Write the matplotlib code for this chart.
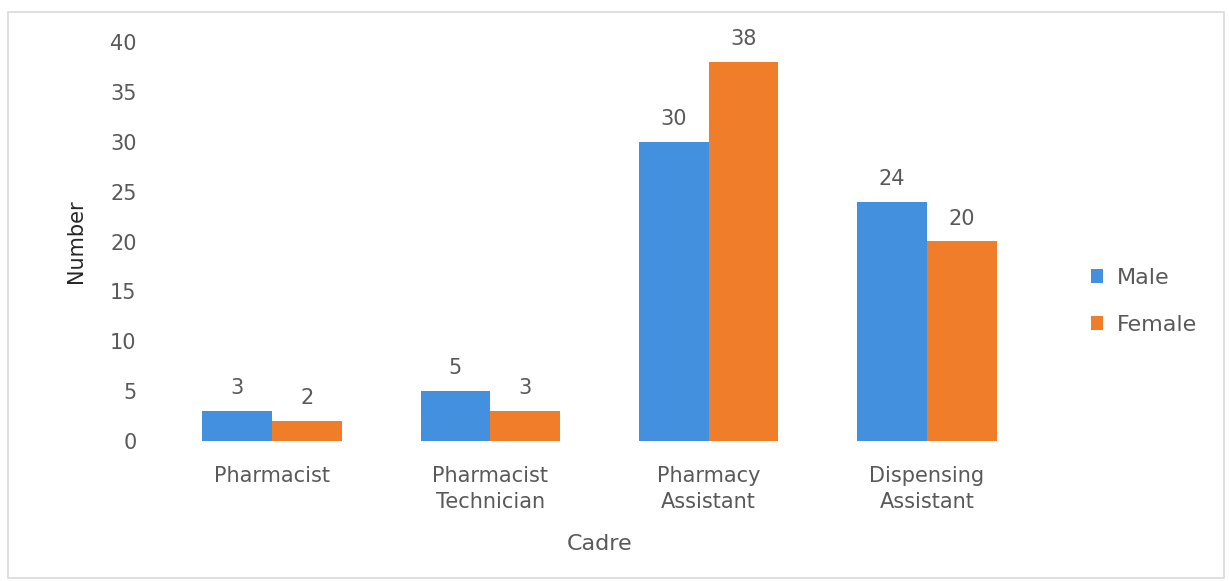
import numpy as np
import matplotlib.pyplot as plt
from matplotlib.patches import Rectangle

cadres = ["Pharmacist", "Pharmacist\nTechnician", "Pharmacy\nAssistant", "Dispensing\nAssistant"]
male = [3, 5, 30, 24]
female = [2, 3, 38, 20]
series_names = ["Male", "Female"]

blue = "#4390de"
orange = "#f07d2a"
grey = "#595959"

plt.rcParams['font.family'] = ['DejaVu Sans']

fig = plt.figure(figsize=(12.29, 5.81), dpi=100)
ax = fig.add_axes([163 / 1229, 1 - 441 / 581, (1036 - 163) / 1229, 399 / 581])

# outer chart border
fig.patches.append(Rectangle((8 / 1229, 3 / 581), 1216 / 1229, 566 / 581,
                             transform=fig.transFigure, fill=False,
                             edgecolor="#d9d9d9", linewidth=1.2))

x = np.arange(len(cadres))
w = 0.32
b1 = ax.bar(x - w / 2, male, w, color=blue, label=series_names[0])
b2 = ax.bar(x + w / 2, female, w, color=orange, label=series_names[1])

for bars in (b1, b2):
    for rect in bars:
        h = rect.get_height()
        ax.text(rect.get_x() + rect.get_width() / 2, h + 1.3, f"{h:g}",
                ha="center", va="bottom", fontsize=15, color=grey)

ax.set_xlim(-0.5, len(cadres) - 0.5)
ax.set_ylim(0, 40)
ax.set_yticks(range(0, 41, 5))
ax.set_xticks(x)
ax.set_xticklabels(cadres, fontsize=15, color=grey, linespacing=1.35)
ax.tick_params(axis="y", labelsize=15, labelcolor=grey, length=0, pad=19)
ax.tick_params(axis="x", length=0, pad=18)
for s in ax.spines.values():
    s.set_visible(False)

ax.set_ylabel("Number", fontsize=15, color="#262626", labelpad=17)
ax.set_xlabel("Cadre", fontsize=16, color=grey, labelpad=16)

leg = ax.legend(loc="center left", bbox_to_anchor=(1.04, 0.35), frameon=False,
                fontsize=16, handlelength=0.55, handleheight=0.55,
                handletextpad=0.6, labelspacing=1.2)
for t in leg.get_texts():
    t.set_color(grey)

fig.savefig("out.png", dpi=100)
